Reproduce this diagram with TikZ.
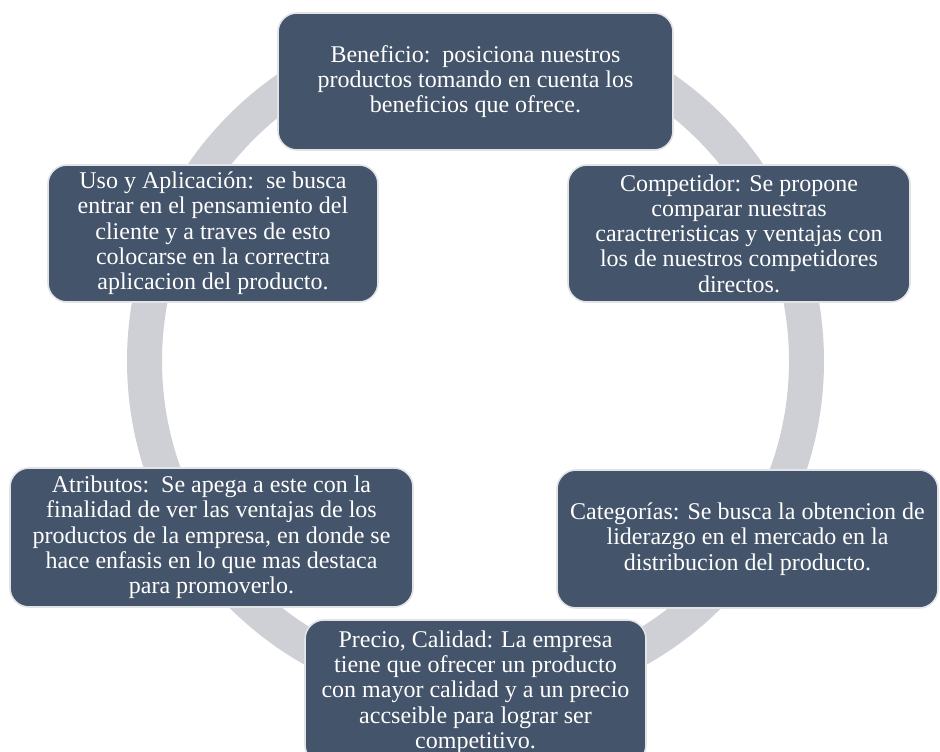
\documentclass[tikz,border=0pt]{standalone}
\usepackage{fontspec}
\newfontfamily\boxfont{Liberation Serif}
\definecolor{boxc}{HTML}{44546A}
\definecolor{ringc}{HTML}{CFD0D5}
\definecolor{edgec}{HTML}{E2E3E6}
\begin{document}
\begin{tikzpicture}[x=1pt,y=-1pt,
  cyclebox/.style={rounded corners=19pt, fill=boxc, draw=edgec, line width=1.6pt,
    text=white, align=center, inner sep=0pt,
    font=\boxfont\fontsize{24}{25.3}\selectfont},
  ringline/.style={draw=ringc, line width=35pt}]
\useasboundingbox (0,0) rectangle (940,752);
\draw[ringline] (475.5,361) circle[radius=331pt];
\node[cyclebox, minimum width=395pt, minimum height=137pt] (ben) at (475.5,81.5)
  {Beneficio:\ \ posiciona nuestros\\productos tomando en cuenta los\\beneficios que ofrece.};
\node[cyclebox, minimum width=330pt, minimum height=137pt] (uso) at (213,233.5)
  {Uso y Aplicación:\ \ se busca\\entrar en el pensamiento del\\cliente y a traves de esto\\colocarse en la correctra\\aplicacion del producto.};
\node[cyclebox, minimum width=342pt, minimum height=137pt] (comp) at (739,233.5)
  {Competidor: Se propone\\comparar nuestras\\caractreristicas y ventajas con\\los de nuestros competidores\\directos.};
\node[cyclebox, minimum width=403pt, minimum height=139pt] (atr) at (211.5,537.5)
  {Atributos:\ \ Se apega a este con la\\finalidad de ver las ventajas de los\\productos de la empresa, en donde se\\hace enfasis en lo que mas destaca\\para promoverlo.};
\node[cyclebox, minimum width=381pt, minimum height=138pt] (cat) at (747.5,539)
  {Categorías: Se busca la obtencion de\\liderazgo en el mercado en la\\distribucion del producto.};
\node[cyclebox, minimum width=341pt, minimum height=144pt] (pre) at (475.5,692)
  {Precio, Calidad: La empresa\\tiene que ofrecer un producto\\con mayor calidad y a un precio\\accseible para lograr ser\\competitivo.};
\end{tikzpicture}
\end{document}
